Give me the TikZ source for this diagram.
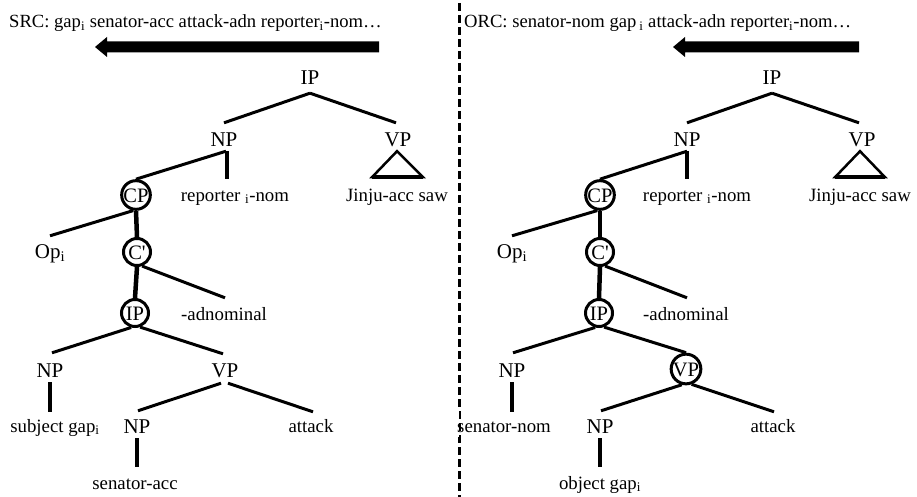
\documentclass[tikz,border=0pt]{standalone}
\usepackage{fontspec}
\setmainfont{Liberation Serif}
\usetikzlibrary{calc}
\begin{document}
\begin{tikzpicture}[x=1pt,y=-1pt,
  lab/.style={font=\fontsize{21}{21}\selectfont, inner sep=0pt, anchor=base, text height=14pt, text depth=0pt},
  leaf/.style={font=\fontsize{18.8}{19}\selectfont, inner sep=0pt, anchor=base, text height=13pt, text depth=4pt},
  ttl/.style={font=\fontsize{18.6}{19}\selectfont, inner sep=0pt, anchor=base west},
  circ/.style={circle, draw, line width=3pt, minimum size=27pt, inner sep=0pt, text height=14pt, text depth=0pt, font=\fontsize{20.5}{21}\selectfont},
  br/.style={line width=3pt},
  vbr/.style={line width=4.5pt},
  tri/.style={line width=2.5pt, line join=miter},
  sep/.style={line width=3pt, dash pattern=on 8pt off 4pt},
]
\useasboundingbox (0,0) rectangle (917,497);

% ---------- titles and arrows ----------
\node[ttl] (tl) at (9,28) {SRC: gap\textsubscript{i} senator-acc attack-adn reporter\textsubscript{i}-nom…};
\node[ttl] (tr) at (464,28) {ORC: senator-nom gap\,\textsubscript{i} attack-adn reporter\textsubscript{i}-nom…};
\fill (379,41.5) -- (107,41.5) -- (107,37) -- (95,47) -- (107,57) -- (107,52.5) -- (379,52.5) -- cycle;
\fill (859,41.5) -- (685,41.5) -- (685,37) -- (673,47) -- (685,57) -- (685,52.5) -- (859,52.5) -- cycle;

% ---------- separator ----------
\coordinate (s1) at (459,3);
\coordinate (s2) at (459,497);
\draw[sep] (s1) -- (s2);

% ================= LEFT TREE (SRC) =================
\node[lab] (ipT) at (310,85) {IP};
\node[lab] (npA) at (224,147) {NP};
\node[lab] (vpA) at (398,147) {VP};
\node[leaf] (rep) at (235,201) {reporter\ \textsubscript{i}-nom};
\node[leaf] (jin) at (397,201) {Jinju-acc saw};
\node[circ] (cp) at (136,195) {CP};
\node[lab] (op) at (50,258) {Op\textsubscript{i}};
\node[circ] (cb) at (137,252) {C\textquotesingle};
\node[leaf] (adn) at (224,320) {-adnominal};
\node[circ] (ipC) at (135,313) {IP};
\node[lab] (npB) at (50,377) {NP};
\node[lab] (vpB) at (225,377) {VP};
\node[leaf] (subj) at (55,432) {subject gap\textsubscript{i}};
\node[lab] (npC) at (137,433) {NP};
\node[leaf] (att) at (311,432) {attack};
\node[leaf] (sen) at (135,489) {senator-acc};

\draw[br] ($(ipT.south)+(0,8)$) -- ($(npA.north)+(0,-10)$);
\draw[br] ($(ipT.south)+(0,8)$) -- ($(vpA.north)+(-2,-10)$);
\draw[br] ($(npA.south)+(2,4)$) -- (cp.north);
\draw[vbr] ($(npA.south)+(3,4)$) -- ($(npA.south |- rep.north)+(3,-9)$);
\coordinate (tA) at ($(vpA.south)+(-1,4)$);
\coordinate (tB) at ($(vpA.south)+(-26,30)$);
\coordinate (tC) at ($(vpA.south)+(25,30)$);
\draw[tri] (tA) -- (tB) -- (tC) -- cycle;
\draw[line width=3.5pt] (tB) -- (tC);
\draw[br] (cp.260) -- ($(op.north)+(0,-8)$);
\draw[vbr] (cp.south) -- (cb.north);
\draw[br] (cb.290) -- ($(adn.north)+(1,-9)$);
\draw[vbr] (cb.south) -- (ipC.north);
\draw[br] (ipC.255) -- ($(npB.north)+(2,-10)$);
\draw[br] (ipC.290) -- ($(vpB.north)+(-2,-9)$);
\draw[vbr] ($(npB.south)+(0,5)$) -- ($(npB.south |- subj.north)+(0,-7)$);
\draw[br] ($(vpB.south)+(-4,6)$) -- ($(npC.north)+(1,-8)$);
\draw[br] ($(vpB.south)+(3,6)$) -- ($(att.north)+(2,-7)$);
\draw[vbr] ($(npC.south)+(0,5)$) -- ($(npC.south |- sen.north)+(0,-9)$);

% ================= RIGHT TREE (ORC) =================
\node[lab] (ipT2) at (772,85) {IP};
\node[lab] (npA2) at (687,147) {NP};
\node[lab] (vpA2) at (862,147) {VP};
\node[leaf] (rep2) at (697,201) {reporter\ \textsubscript{i}-nom};
\node[leaf] (jin2) at (860,201) {Jinju-acc saw};
\node[circ] (cp2) at (600,195) {CP};
\node[lab] (op2) at (512,258) {Op\textsubscript{i}};
\node[circ] (cb2) at (600,252) {C\textquotesingle};
\node[leaf] (adn2) at (686,320) {-adnominal};
\node[circ] (ipC2) at (599,313) {IP};
\node[lab] (npB2) at (512,377) {NP};
\node[circ] (vpC2) at (686,369) {VP};
\node[leaf, text opacity=0] (snomb) at (504,432) {senator-nom};
\fill[white] ($(snomb.north west)+(-4,-11)$) rectangle ($(snomb.south west)+(2,1)$);
\node[leaf] (snom) at (snomb.base) {senator-nom};
\node[lab] (npC2) at (600,433) {NP};
\node[leaf] (att2) at (773,432) {attack};
\node[leaf] (obj) at (600,489) {object gap\textsubscript{i}};

\draw[br] ($(ipT2.south)+(0,8)$) -- ($(npA2.north)+(0,-10)$);
\draw[br] ($(ipT2.south)+(0,8)$) -- ($(vpA2.north)+(-3,-10)$);
\draw[br] ($(npA2.south)+(0,4)$) -- (cp2.north);
\draw[vbr] ($(npA2.south)+(0,4)$) -- ($(npA2.south |- rep2.north)+(0,-9)$);
\coordinate (tA2) at ($(vpA2.south)+(-2,4)$);
\coordinate (tB2) at ($(vpA2.south)+(-27,30)$);
\coordinate (tC2) at ($(vpA2.south)+(23,30)$);
\draw[tri] (tA2) -- (tB2) -- (tC2) -- cycle;
\draw[line width=3.5pt] (tB2) -- (tC2);
\draw[br] (cp2.260) -- ($(op2.north)+(0,-8)$);
\draw[vbr] (cp2.south) -- (cb2.north);
\draw[br] (cb2.290) -- ($(adn2.north)+(1,-9)$);
\draw[vbr] (cb2.south) -- (ipC2.north);
\draw[br] (ipC2.255) -- ($(npB2.north)+(1,-10)$);
\draw[br] (ipC2.290) -- (vpC2.north);
\draw[vbr] ($(npB2.south)+(0,5)$) -- ($(npB2.south |- snom.north)+(0,-7)$);
\draw[br] (vpC2.255) -- ($(npC2.north)+(1,-8)$);
\draw[br] (vpC2.290) -- ($(att2.north)+(1,-7)$);
\draw[vbr] ($(npC2.south)+(0,5)$) -- ($(npC2.south |- obj.north)+(0,-9)$);
\end{tikzpicture}
\end{document}
